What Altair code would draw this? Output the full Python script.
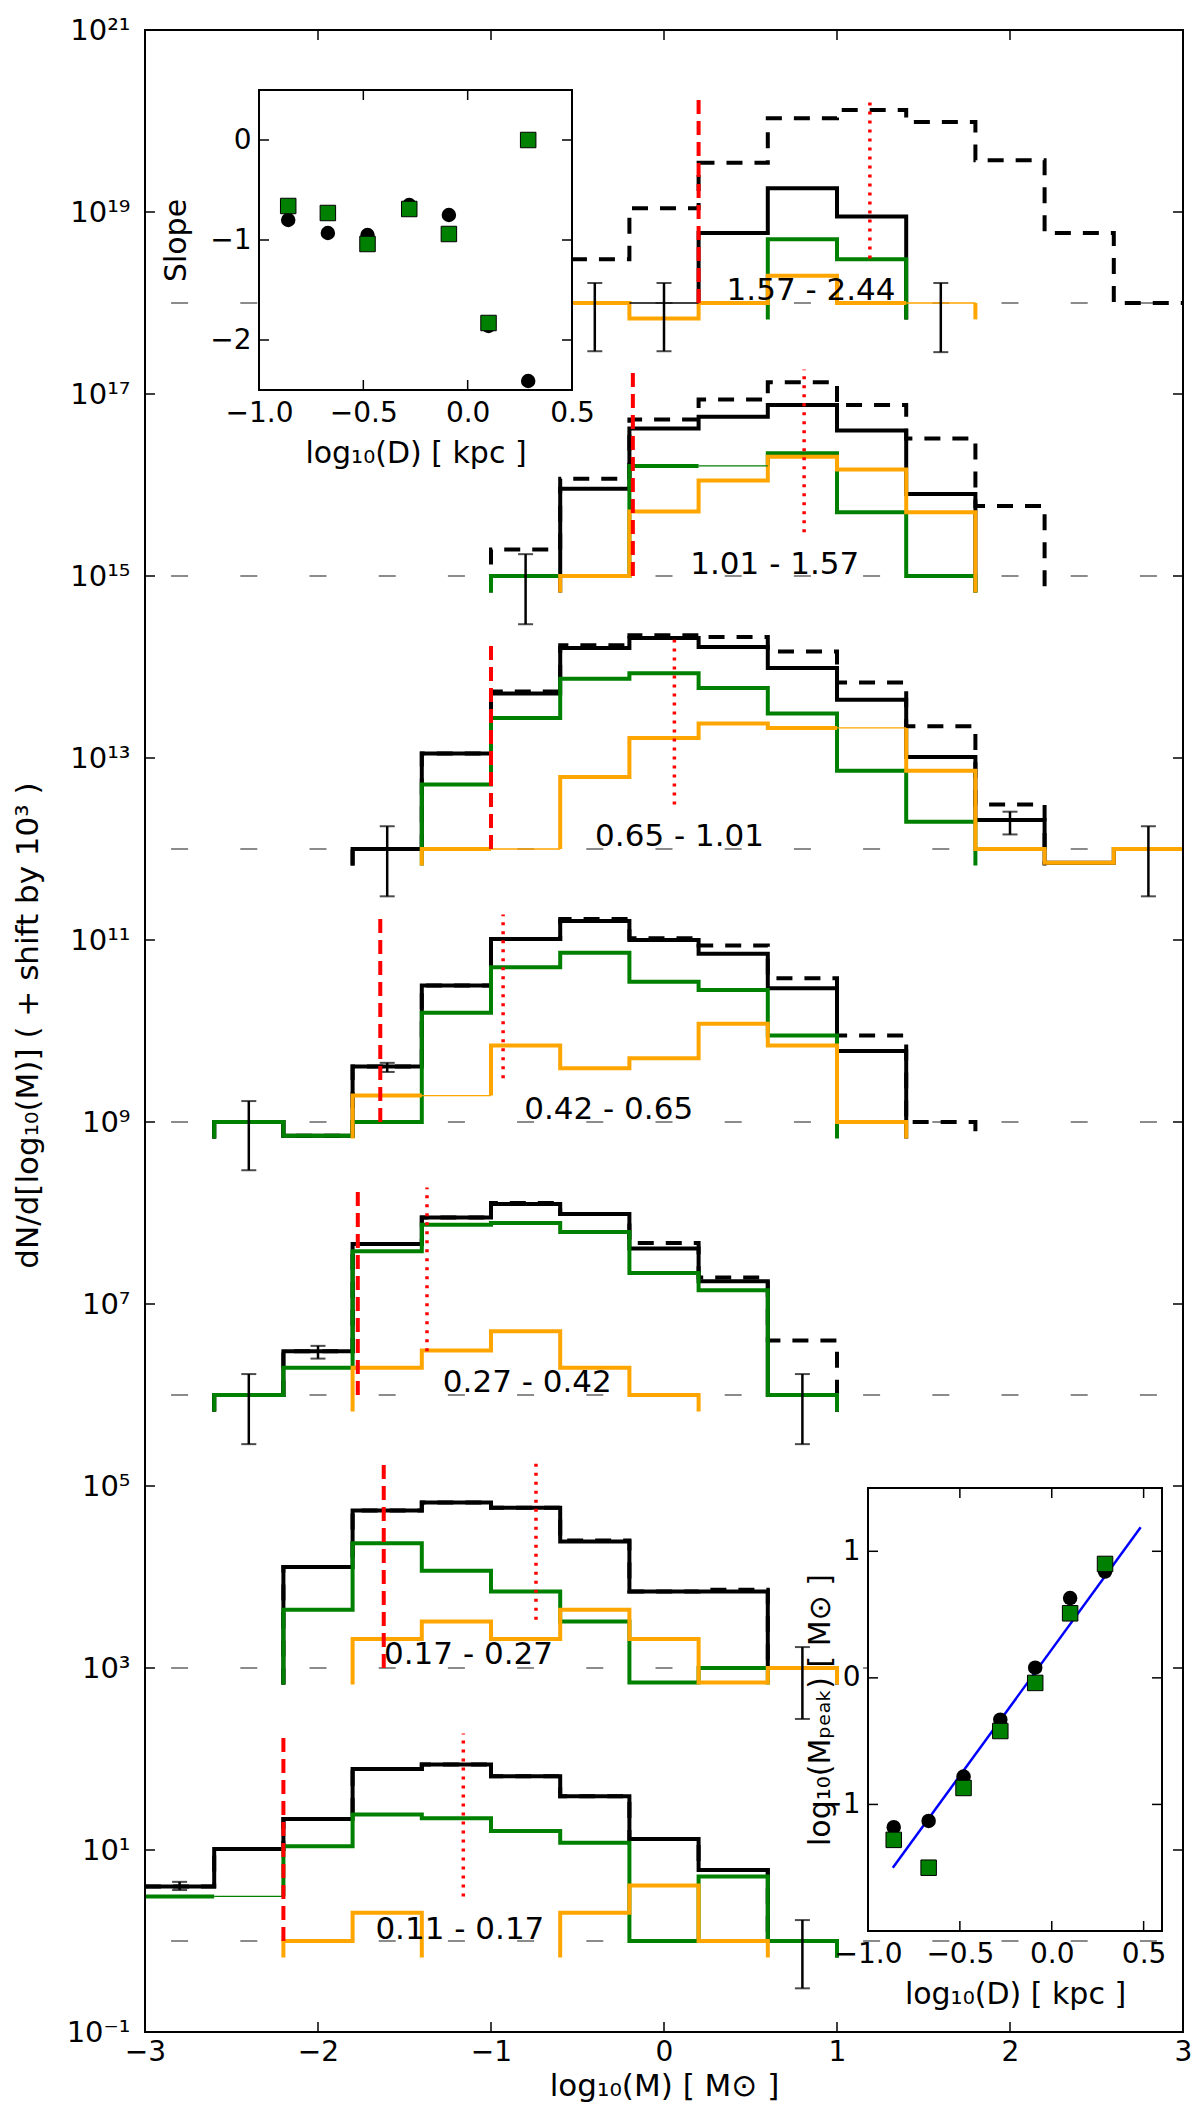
import altair as alt
import pandas as pd

# ---------------- layout (pixels) ----------------
W, H = 1038, 2002

# ---------------- main panel data ----------------
EDGES = [-3.0, -2.6, -2.2, -1.8, -1.4, -1.0, -0.6, -0.2, 0.2, 0.6, 1.0, 1.4, 1.8, 2.2, 2.6, 3.0]
CENTERS = [-2.8, -2.4, -2.0, -1.6, -1.2, -0.8, -0.4, 0.0, 0.4, 0.8, 1.2, 1.6, 2.0, 2.4, 2.8]
X_TICKS = [-3, -2, -1, 0, 1, 2, 3]
Y_TICKS = [-1, 1, 3, 5, 7, 9, 11, 13, 15, 17, 19, 21]

GROUP_BASE = [0, 3, 6, 9, 12, 15, 18]
GROUP_LABELS = ["0.11 - 0.17", "0.17 - 0.27", "0.27 - 0.42", "0.42 - 0.65",
                "0.65 - 1.01", "1.01 - 1.57", "1.57 - 2.44"]
LABEL_X = [-1.18, -1.13, -0.79, -0.32, 0.09, 0.64, 0.85]
LABEL_Y = [0.12, 3.14, 6.13, 9.13, 12.13, 15.12, 18.13]
RED_DASHED_X = [-2.20, -1.62, -1.77, -1.64, -1.00, -0.18, 0.20]
RED_DOTTED_X = [-1.16, -0.74, -1.37, -0.93, 0.06, 0.81, 1.19]
RED_TOP = [2.28, 5.28, 8.28, 11.28, 14.30, 17.27, 20.27]
DOTTED_BOTTOM = [0.49, 3.53, 6.48, 9.48, 12.49, 15.48, 18.49]

# histograms, log10 values per bin: (index of first bin, values); None = empty bin
TOTAL_DASHED = [
    (0, [0.60, 1.01, 1.34, 1.89, 1.94, 1.81, 1.59, 1.12, 0.78, 0.00]),
    (2, [4.11, 4.73, 4.82, 4.76, 4.40, 3.84, 3.86, 3.00]),
    (1, [6.00, 6.48, 7.66, 7.95, 8.11, 7.99, 7.67, 7.29, 6.60]),
    (1, [9.00, 8.85, 9.61, 10.50, 11.01, 11.23, 11.02, 10.94, 10.58, 9.95, 9.00]),
    (3, [12.00, 13.05, 13.73, 14.24, 14.35, 14.33, 14.17, 13.83, 13.35, 12.49]),
    (5, [15.29, 16.07, 16.72, 16.94, 17.13, 16.88, 16.51, 15.77]),
    (5, [18.48, 18.48, 19.04, 19.54, 20.03, 20.12, 19.99, 19.57, 18.77, 18.00]),
]
TOTAL = [
    (0, [0.60, 1.01, 1.34, 1.89, 1.94, 1.81, 1.59, 1.12, 0.78, 0.00]),
    (2, [4.11, 4.73, 4.82, 4.76, 4.39, 3.84, 3.84, 3.00]),
    (1, [6.00, 6.48, 7.66, 7.95, 8.10, 7.99, 7.61, 7.25, 6.00]),
    (1, [9.00, 8.85, 9.61, 10.50, 11.01, 11.21, 11.00, 10.85, 10.47, 9.78]),
    (3, [12.00, 13.05, 13.71, 14.21, 14.32, 14.22, 13.99, 13.64, 13.01, 12.32, 11.85, 12.00]),
    (6, [15.96, 16.62, 16.75, 16.88, 16.60, 15.90]),
    (5, [18.00, 18.00, None, 18.77, 19.26, 18.95]),
]
GREEN = [
    (0, [0.49, None, 1.04, 1.39, 1.35, 1.21, 1.08, 0.00, 0.71, 0.00]),
    (2, [3.64, 4.37, 4.07, 3.84, 3.51, 2.84, 3.00]),
    (1, [6.00, 6.30, 7.58, 7.87, 7.89, 7.79, 7.34, 7.15, 6.00]),
    (1, [9.00, 8.85, 9.00, 10.20, 10.70, 10.86, 10.54, 10.45, 9.95]),
    (4, [12.71, 13.44, 13.87, 13.93, 13.77, 13.49, 12.86, 12.30]),
    (5, [15.00, 15.00, 16.21, None, 16.35, 15.70, 15.00]),
    (9, [18.70, 18.48]),
]
ORANGE = [
    (2, [0.00, 0.31, None, None, 0.31, 0.61, 0.00]),
    (3, [3.32, 3.51, 3.32, 3.64, 3.32, 2.84, 3.00]),
    (3, [6.30, 6.49, 6.70, 6.30, 6.00]),
    (3, [9.29, None, 9.84, 9.59, 9.70, 10.08, 9.84, 9.00]),
    (4, [12.00, None, 12.79, 13.22, 13.38, 13.33, None, 12.86, 12.00, 11.85, 12.00]),
    (6, [15.00, 15.71, 16.05, 16.31, 16.17, 15.70]),
    (5, [18.00, 18.00, 17.83, 18.00, 18.30, 18.00, None]),
]
STUB = 0.18  # depth of the vertical end stubs below the baseline

# error bars
ERR_X = [-2.8, 0.8, 0.8, -2.4, -2.0, 0.8, -2.4, -1.6, -1.6, 2.0, 2.8, -0.8, -0.4, 0.0, 1.6]
ERR_LO = [0.56, -0.52, 2.44, 5.46, 6.40, 5.46, 8.47, 9.55, 11.48, 12.16, 11.48, 14.47, 17.47, 17.47, 17.46]
ERR_HI = [0.65, 0.23, 3.23, 6.23, 6.54, 6.23, 9.23, 9.65, 12.25, 12.41, 12.25, 15.24, 18.22, 18.22, 18.22]

# ---------------- inset data ----------------
LOG_D = [-0.86, -0.67, -0.48, -0.28, -0.09, 0.10, 0.29]
SLOPE_BLACK = [-0.80, -0.93, -0.95, -0.65, -0.75, -1.86, -2.41]
SLOPE_GREEN = [-0.66, -0.73, -1.04, -0.69, -0.94, -1.83, 0.00]
MPEAK_BLACK = [-1.18, -1.13, -0.78, -0.33, 0.08, 0.63, 0.84]
MPEAK_GREEN = [-1.28, -1.50, -0.87, -0.42, -0.04, 0.51, 0.90]
FIT_D = [-0.865, 0.484]
FIT_M = [-1.50, 1.19]

IN1_XDOM, IN1_YDOM = [-1.0, 0.5], [-2.5, 0.5]
IN1_XTICKS, IN1_YTICKS = [-1.0, -0.5, 0.0, 0.5], [-2, -1, 0]
IN2_XDOM, IN2_YDOM = [-1.0, 0.6], [-2.0, 1.5]
IN2_XTICKS, IN2_YTICKS = [-1.0, -0.5, 0.0, 0.5], [-1, 0, 1]

# inset placement inside the plot area (pixels)
IN1_PX = (114, 427, 60, 360)      # left, right, top, bottom
IN2_PX = (723, 1017, 1458, 1901)

GREEN_C, ORANGE_C, RED_C, BLUE_C = "#008000", "#FFA500", "#FF0000", "#0000FF"
FONT = "DejaVu Sans"

# ---------------- build step paths ----------------
def series_paths(start, vals, base):
    floor = base - STUB
    thick, thin = [], []
    cur, pending = None, None
    n = len(vals)
    for j, v in enumerate(vals):
        k = start + j
        left, right = EDGES[k], EDGES[k + 1]
        if v is not None:
            if cur is None:
                cur = []
                if pending is not None:
                    cur.append((left, pending))
                    pending = None
                elif k > 0:
                    cur.append((left, floor))
            cur += [(left, v), (right, v)]
        else:
            prev = vals[j - 1] if j > 0 else None
            nxt_ok = (j == n - 1) or (vals[j + 1] is not None)
            if prev is not None and nxt_ok:
                if cur:
                    thick.append(cur)
                    cur = None
                thin.append([(left, prev), (right, prev)])
                if j == n - 1:
                    thick.append([(right, prev), (right, floor)])
                else:
                    pending = prev
            else:
                if cur:
                    cur.append((left, floor))
                    thick.append(cur)
                    cur = None
    if cur:
        end = EDGES[start + n]
        if end < EDGES[-1]:
            cur.append((end, floor))
        thick.append(cur)
    return thick, thin


rows, thin_rows = [], []
for kind, table, col in [("dashed", TOTAL_DASHED, "black"), ("total", TOTAL, "black"),
                         ("green", GREEN, GREEN_C), ("orange", ORANGE, ORANGE_C)]:
    for g, (start, vals) in enumerate(table):
        thick, thin = series_paths(start, vals, GROUP_BASE[g])
        for si, seg in enumerate(thick):
            for pi, (x, y) in enumerate(seg):
                rows.append(dict(x=x, y=y, kind=kind, seg=f"{kind}-{g}-{si}", ord=pi))
        for si, seg in enumerate(thin):
            for pi, (x, y) in enumerate(seg):
                thin_rows.append(dict(x=x, y=y, col=col, seg=f"t-{kind}-{g}-{si}", ord=pi))

lines_df = pd.DataFrame(rows)
thin_df = pd.DataFrame(thin_rows)

markers_df = pd.DataFrame([dict(x=c, y=b) for b in GROUP_BASE for c in CENTERS])
err_df = pd.DataFrame(dict(x=ERR_X, lo=ERR_LO, hi=ERR_HI))
caps_df = pd.DataFrame(dict(x=ERR_X + ERR_X, y=ERR_LO + ERR_HI))
red_df = pd.DataFrame(dict(xd=RED_DASHED_X, xo=RED_DOTTED_X, base=GROUP_BASE,
                           top=RED_TOP, dbot=DOTTED_BOTTOM))
label_df = pd.DataFrame(dict(x=LABEL_X, y=LABEL_Y, t=GROUP_LABELS))
one_df = pd.DataFrame({"a": [0]})

XS = alt.Scale(domain=[-3, 3], nice=False, zero=False)
YS = alt.Scale(domain=[-1, 21], nice=False, zero=False)

SUP = str.maketrans("-0123456789", "⁻⁰¹²³⁴⁵⁶⁷⁸⁹")
y_labels = ["10" + str(t).translate(SUP) for t in Y_TICKS]
y_label_expr = "[" + ",".join(f"'{s}'" for s in y_labels) + "][(datum.value + 1) / 2]"


def X(field, axis=None):
    return alt.X(field, type="quantitative", scale=XS, axis=axis)


def Y(field, axis=None):
    return alt.Y(field, type="quantitative", scale=YS, axis=axis)


main_x_axis = alt.Axis(orient="bottom", values=X_TICKS, format="d", ticks=False, domain=False,
                       grid=False, labelFontSize=28, labelPadding=6, labelFlush=False,
                       labelOverlap=False, title="log₁₀(M)  [ M⊙ ]", titleFontSize=31,
                       titleFontWeight="normal", titleX=W / 2, titleY=54, titleBaseline="middle")
main_y_axis = alt.Axis(orient="left", values=Y_TICKS, labelExpr=y_label_expr, ticks=False,
                       domain=False, grid=False, labelFontSize=29, labelPadding=15,
                       labelFlush=False, labelOverlap=False,
                       title="dN/d[log₁₀(M)]  ( + shift by 10³ )", titleFontSize=31,
                       titleFontWeight="normal", titleX=-117, titleY=995, titleAngle=270,
                       titleBaseline="middle", titleAlign="center")

markers = alt.Chart(markers_df).mark_tick(orient="horizontal", size=17, thickness=1.3,
                                          color="black").encode(
    x=X("x", main_x_axis), y=Y("y", main_y_axis))


def hist_layer(kind, color, dash=None):
    props = dict(color=color, strokeWidth=4, strokeJoin="miter", strokeCap="butt")
    if dash:
        props["strokeDash"] = dash
    return alt.Chart(lines_df).transform_filter(alt.datum.kind == kind).mark_line(**props).encode(
        x=X("x"), y=Y("y"), detail="seg:N", order="ord:Q")


thin_layer = alt.Chart(thin_df).mark_line(strokeWidth=1.3).encode(
    x=X("x"), y=Y("y"), detail="seg:N", order="ord:Q",
    color=alt.Color("col:N", scale=None))

err_rules = alt.Chart(err_df).mark_rule(color="black", strokeWidth=2.5).encode(
    x=X("x"), y=Y("lo"), y2="hi:Q")
err_caps = alt.Chart(caps_df).mark_tick(orient="horizontal", size=15, thickness=2,
                                        color="black").encode(x=X("x"), y=Y("y"))

red_dashed = alt.Chart(red_df).mark_rule(color=RED_C, strokeWidth=4, strokeDash=[14, 7]).encode(
    x=X("xd"), y=Y("base"), y2="top:Q")
red_dotted = alt.Chart(red_df).mark_rule(color=RED_C, strokeWidth=3.5, strokeDash=[3, 6]).encode(
    x=X("xo"), y=Y("dbot"), y2="top:Q")

labels = alt.Chart(label_df).mark_text(fontSize=31, align="center", baseline="middle",
                                       color="black").encode(x=X("x"), y=Y("y"), text="t:N")

xt_df = pd.DataFrame({"t": X_TICKS})
yt_df = pd.DataFrame({"t": Y_TICKS})
TL = 10
main_ticks = [
    alt.Chart(xt_df).mark_rule(strokeWidth=1.5, color="black").encode(
        x=X("t"), y=alt.value(H), y2=alt.value(H - TL)),
    alt.Chart(xt_df).mark_rule(strokeWidth=1.5, color="black").encode(
        x=X("t"), y=alt.value(0), y2=alt.value(TL)),
    alt.Chart(yt_df).mark_rule(strokeWidth=1.5, color="black").encode(
        y=Y("t"), x=alt.value(0), x2=alt.value(TL)),
    alt.Chart(yt_df).mark_rule(strokeWidth=1.5, color="black").encode(
        y=Y("t"), x=alt.value(W), x2=alt.value(W - TL)),
]
frame = alt.Chart(one_df).mark_rect(filled=False, stroke="black", strokeWidth=2).encode(
    x=alt.value(0), x2=alt.value(W), y=alt.value(0), y2=alt.value(H))

main_layers = [markers, hist_layer("dashed", "black", [16, 12]), hist_layer("total", "black"),
               hist_layer("green", GREEN_C), hist_layer("orange", ORANGE_C), thin_layer,
               err_rules, err_caps, red_dashed, red_dotted, labels, *main_ticks, frame]


# ---------------- insets ----------------
def make_inset(xdom, ydom, xticks, yticks, px, ytitle, ytitle_x, points):
    l, r, t, b = px
    sx = alt.Scale(domain=xdom, range=[l, r], nice=False, zero=False)
    sy = alt.Scale(domain=ydom, range=[b, t], nice=False, zero=False)
    xaxis = alt.Axis(orient="bottom", offset=b - H, values=xticks, format=".1f", ticks=False,
                     domain=False, grid=False, labelFontSize=28, labelPadding=9,
                     labelFlush=False, labelOverlap=False, title="log₁₀(D)  [ kpc ]",
                     titleFontSize=30, titleFontWeight="normal", titleX=(l + r) / 2, titleY=63,
                     titleBaseline="middle", zindex=1)
    yaxis = alt.Axis(orient="left", offset=-l, values=yticks, format="d", ticks=False,
                     domain=False, grid=False, labelFontSize=28, labelPadding=8,
                     labelFlush=False, labelOverlap=False, title=ytitle, titleFontSize=30,
                     titleFontWeight="normal", titleX=ytitle_x, titleY=(t + b) / 2,
                     titleAngle=270, titleBaseline="middle", titleAlign="center", zindex=1)
    box_df = pd.DataFrame(dict(x0=[xdom[0]], x1=[xdom[1]], y0=[ydom[0]], y1=[ydom[1]]))
    box = alt.Chart(box_df).mark_rect(fill="white", stroke="black", strokeWidth=2).encode(
        x=alt.X("x0:Q", scale=sx, axis=xaxis), x2="x1:Q",
        y=alt.Y("y0:Q", scale=sy, axis=yaxis), y2="y1:Q")
    xt = pd.DataFrame({"t": xticks})
    yt = pd.DataFrame({"t": yticks})
    ticks = [
        alt.Chart(xt).mark_rule(strokeWidth=1.5, color="black").encode(
            x=alt.X("t:Q", scale=sx, axis=None), y=alt.value(b), y2=alt.value(b - TL)),
        alt.Chart(xt).mark_rule(strokeWidth=1.5, color="black").encode(
            x=alt.X("t:Q", scale=sx, axis=None), y=alt.value(t), y2=alt.value(t + TL)),
        alt.Chart(yt).mark_rule(strokeWidth=1.5, color="black").encode(
            y=alt.Y("t:Q", scale=sy, axis=None), x=alt.value(l), x2=alt.value(l + TL)),
        alt.Chart(yt).mark_rule(strokeWidth=1.5, color="black").encode(
            y=alt.Y("t:Q", scale=sy, axis=None), x=alt.value(r), x2=alt.value(r - TL)),
    ]
    pts = []
    for kind, df in points:
        if kind == "fit":
            pts.append(alt.Chart(df).mark_line(color=BLUE_C, strokeWidth=2.5).encode(
                x=alt.X("d:Q", scale=sx, axis=None), y=alt.Y("v:Q", scale=sy, axis=None)))
        elif kind == "circle":
            pts.append(alt.Chart(df).mark_circle(color="black", size=210, opacity=1).encode(
                x=alt.X("d:Q", scale=sx, axis=None), y=alt.Y("v:Q", scale=sy, axis=None)))
        else:
            pts.append(alt.Chart(df).mark_square(color=GREEN_C, stroke="black", strokeWidth=1,
                                                 size=240, opacity=1).encode(
                x=alt.X("d:Q", scale=sx, axis=None), y=alt.Y("v:Q", scale=sy, axis=None)))
    return [box, *pts, *ticks]


inset1 = make_inset(IN1_XDOM, IN1_YDOM, IN1_XTICKS, IN1_YTICKS, IN1_PX, "Slope", -83, [
    ("circle", pd.DataFrame(dict(d=LOG_D, v=SLOPE_BLACK))),
    ("square", pd.DataFrame(dict(d=LOG_D, v=SLOPE_GREEN))),
])
inset2 = make_inset(IN2_XDOM, IN2_YDOM, IN2_XTICKS, IN2_YTICKS, IN2_PX,
                    "log₁₀(Mₚₑₐₖ)  [ M⊙ ]", -48, [
    ("fit", pd.DataFrame(dict(d=FIT_D, v=FIT_M))),
    ("circle", pd.DataFrame(dict(d=LOG_D, v=MPEAK_BLACK))),
    ("square", pd.DataFrame(dict(d=LOG_D, v=MPEAK_GREEN))),
])

chart = alt.layer(*main_layers, *inset1, *inset2).resolve_scale(
    x="independent", y="independent"
).properties(
    width=W, height=H,
    autosize=alt.AutoSizeParams(type="none"),
    padding={"left": 137, "top": 22, "right": 9, "bottom": 75},
).configure(font=FONT).configure_view(strokeWidth=0)

chart.save("out.html", embed_options={"renderer": "svg", "actions": False})
